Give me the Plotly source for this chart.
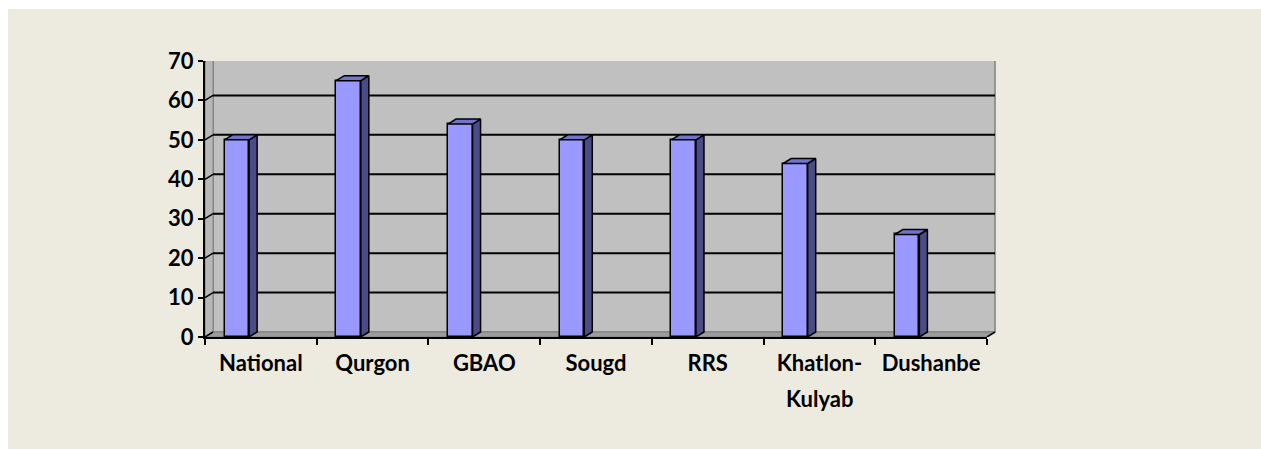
import plotly.graph_objects as go

# ---- data ----
categories = ["National", "Qurgon", "GBAO", "Sougd", "RRS", "Khatlon-Kulyab", "Dushanbe"]
values = [50, 65, 54, 50, 50, 44, 26]
tick_labels = ["National", "Qurgon", "GBAO", "Sougd", "RRS", "Khatlon-", "Dushanbe"]
second_line = {"Khatlon-Kulyab": "Kulyab"}
y_ticks = [0, 10, 20, 30, 40, 50, 60, 70]

# ---- styling / geometry ----
W, H = 1261, 449
ML, MR, MT, MB = 205, 274, 61, 112
PW = W - ML - MR
PH = H - MT - MB
YMAX = 70
n = len(categories)
cat_px = PW / n
DX_PX, DY_PX = 8, 5
ddx = DX_PX / cat_px           # depth in x (category units)
ddx_p = DX_PX / PW              # depth in x (paper units)
ddy = DY_PX * YMAX / PH         # depth in y (data units)
OFF, BW = -0.325, 0.22

BEIGE = "#EDEBE0"
FRONT = "#9999FF"
SIDE = "#4B4B86"
TOP = "#7373CC"
font = dict(family="Lato, Liberation Sans, sans-serif", size=22, color="black", weight="bold")

fig = go.Figure()

fig.add_trace(go.Bar(
    x=categories, y=values, offset=OFF, width=BW,
    marker=dict(color=FRONT, line=dict(color="black", width=1.5)),
    hoverinfo="skip", showlegend=False,
))

sx, sy, tx, ty = [], [], [], []
for i, v in enumerate(values):
    l = i + OFF
    r = l + BW
    sx += [r, r + ddx, r + ddx, r, r, None]
    sy += [0, ddy, v + ddy, v, 0, None]
    tx += [l, r, r + ddx, l + ddx, l, None]
    ty += [v, v, v + ddy, v + ddy, v, None]

fig.add_trace(go.Scatter(x=sx, y=sy, xaxis="x2", mode="lines", fill="toself",
                         fillcolor=SIDE, line=dict(color="black", width=1.5),
                         hoverinfo="skip", showlegend=False))
fig.add_trace(go.Scatter(x=tx, y=ty, xaxis="x2", mode="lines", fill="toself",
                         fillcolor=TOP, line=dict(color="black", width=1.5),
                         hoverinfo="skip", showlegend=False))

shapes = []
# white outer strips (top and left), as in the reference framing
shapes.append(dict(type="rect", xref="paper", yref="paper",
                   x0=-ML / PW, x1=(W - ML) / PW, y0=(PH + MT - 9) / PH, y1=(PH + MT) / PH,
                   fillcolor="white", line=dict(width=0), layer="below"))
shapes.append(dict(type="rect", xref="paper", yref="paper",
                   x0=-ML / PW, x1=(8 - ML) / PW, y0=-MB / PH, y1=(PH + MT) / PH,
                   fillcolor="white", line=dict(width=0), layer="below"))
# back wall
shapes.append(dict(type="rect", xref="paper", yref="y", x0=ddx_p, x1=1 + ddx_p,
                   y0=ddy, y1=YMAX + ddy, fillcolor="#C0C0C0",
                   line=dict(color="#808080", width=1.5), layer="below"))
# left side wall
shapes.append(dict(type="path", xref="paper", yref="y",
                   path=f"M 0 0 L 0 {YMAX} L {ddx_p} {YMAX + ddy} L {ddx_p} {ddy} Z",
                   fillcolor="#B8B8B8", line=dict(color="#808080", width=1), layer="below"))
# floor
shapes.append(dict(type="path", xref="paper", yref="y",
                   path=f"M 0 0 L 1 0 L {1 + ddx_p} {ddy} L {ddx_p} {ddy} Z",
                   fillcolor="#9C9C9C", line=dict(color="#808080", width=1), layer="below"))
# gridlines on back wall + diagonal tick connectors
for t in y_ticks:
    if 0 < t < YMAX:
        shapes.append(dict(type="line", xref="paper", yref="y", x0=ddx_p, x1=1 + ddx_p,
                           y0=t + ddy, y1=t + ddy, line=dict(color="black", width=2), layer="below"))
    shapes.append(dict(type="line", xref="paper", yref="y", x0=0, x1=ddx_p,
                       y0=t, y1=t + ddy, line=dict(color="black", width=1.5), layer="below"))
shapes.append(dict(type="line", xref="paper", yref="y", x0=1, x1=1 + ddx_p,
                   y0=0, y1=ddy, line=dict(color="black", width=1.5)))

annotations = []
for c, txt in second_line.items():
    annotations.append(dict(x=categories.index(c), xref="x2", y=0, yref="y", text=txt,
                            showarrow=False, font=font, yanchor="top", yshift=-46))

fig.update_layout(
    width=W, height=H,
    margin=dict(l=ML, r=MR, t=MT, b=MB),
    paper_bgcolor=BEIGE, plot_bgcolor="rgba(0,0,0,0)",
    shapes=shapes, annotations=annotations,
    bargap=0,
    xaxis=dict(type="category", range=[-0.5, n - 0.5], tickmode="array",
               tickvals=categories, ticktext=tick_labels, tickson="boundaries",
               ticks="outside", ticklen=6, tickwidth=2, tickcolor="black",
               showline=True, linecolor="black", linewidth=2, showgrid=False,
               tickfont=font, zeroline=False, ticklabelstandoff=6),
    xaxis2=dict(overlaying="x", range=[-0.5, n - 0.5], visible=False),
    yaxis=dict(range=[0, YMAX], tickvals=y_ticks, ticks="outside", ticklen=5,
               tickwidth=2, tickcolor="black", showline=True, linecolor="black",
               linewidth=2, showgrid=False, zeroline=False, tickfont=font),
)

fig.write_html("out.html", config={"displayModeBar": False},
               post_script="document.body.style.margin='0';")
